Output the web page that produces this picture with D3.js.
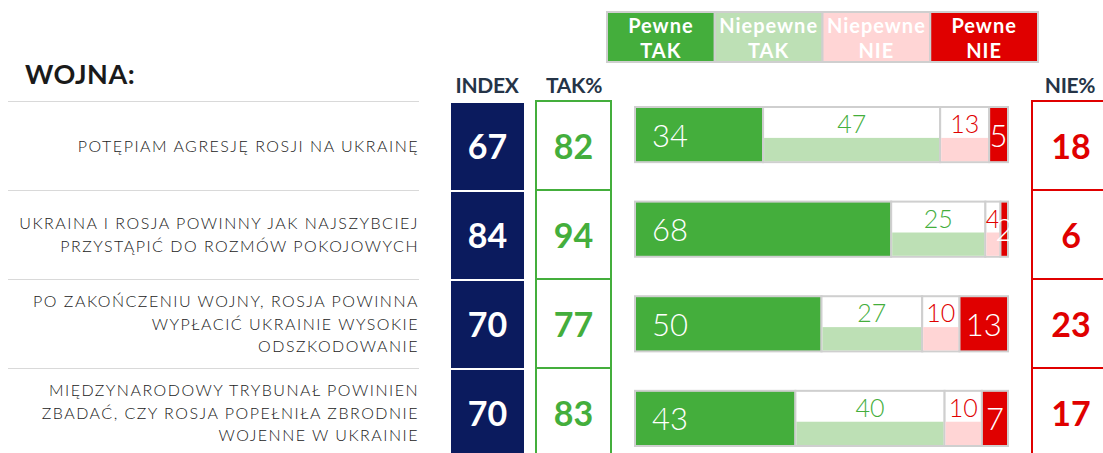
<!DOCTYPE html>
<html>
<head>
<meta charset="utf-8">
<script src="https://cdn.jsdelivr.net/npm/d3@7/dist/d3.min.js"></script>
<style>
  html, body { margin: 0; padding: 0; background: #ffffff; }
  svg { display: block; }
</style>
</head>
<body>
<div id="chart"></div>
<script>
const COLORS = {
  pewneTak: '#44ae3c',
  niepewneTak: '#bde0b5',
  niepewneNie: '#ffd5d5',
  pewneNie: '#e00000',
  navy: '#0b1b5e',
  header: '#253447',
  border: '#cfcfcf',
  rule: '#d9d9d9',
};

// data
const title = 'WOJNA:';
const statements = [
  ['POTĘPIAM AGRESJĘ ROSJI NA UKRAINĘ'],
  ['UKRAINA I ROSJA POWINNY JAK NAJSZYBCIEJ', 'PRZYSTĄPIĆ DO ROZMÓW POKOJOWYCH'],
  ['PO ZAKOŃCZENIU WOJNY, ROSJA POWINNA', 'WYPŁACIĆ UKRAINIE WYSOKIE', 'ODSZKODOWANIE'],
  ['MIĘDZYNARODOWY TRYBUNAŁ POWINIEN', 'ZBADAĆ, CZY ROSJA POPEŁNIŁA ZBRODNIE', 'WOJENNE W UKRAINIE'],
];
const indexValues = [67, 84, 70, 70];
const takValues = [82, 94, 77, 83];
const nieValues = [18, 6, 23, 17];
const pewneTak = [34, 68, 50, 43];
const niepewneTak = [47, 25, 27, 40];
const niepewneNie = [13, 4, 10, 10];
const pewneNie = [5, 2, 13, 7];
const seriesKeys = ['pewneTak', 'niepewneTak', 'niepewneNie', 'pewneNie'];
const legendLabels = [['Pewne', 'TAK'], ['Niepewne', 'TAK'], ['Niepewne', 'NIE'], ['Pewne', 'NIE']];
const columnHeaders = ['INDEX', 'TAK%', 'NIE%'];

const width = 1103;
const height = 453;

const svg = d3.select('#chart').append('svg')
  .attr('width', width)
  .attr('height', height)
  .style('font-family', 'Lato, "Open Sans", sans-serif');

const rows = d3.range(statements.length);

// rows of the table and the bars use slightly different bands
const yRow = d3.scaleBand().domain(rows).range([101, 457]);
const yBar = d3.scaleBand().domain(rows).range([107, 446]).paddingInner(0.417);

const table = rows.map((i) => ({
  i,
  pewneTak: pewneTak[i],
  niepewneTak: niepewneTak[i],
  niepewneNie: niepewneNie[i],
  pewneNie: pewneNie[i],
}));
const stacked = d3.stack().keys(seriesKeys).offset(d3.stackOffsetExpand)(table);

const x = d3.scaleLinear().domain([0, 1]).range([635, 1008]);

// title
svg.append('text')
  .attr('x', 25).attr('y', 84)
  .attr('font-size', 27).attr('font-weight', 700)
  .attr('letter-spacing', 0.5)
  .attr('fill', '#1a1a1a')
  .text(title);

// statement separators
svg.append('g').selectAll('line')
  .data(rows)
  .join('line')
  .attr('x1', 8).attr('x2', 419)
  .attr('y1', (d) => yRow(d) + 0.5).attr('y2', (d) => yRow(d) + 0.5)
  .attr('stroke', COLORS.rule).attr('stroke-width', 1.2);

// statements
const lineH = 22.5;
svg.append('g').selectAll('text')
  .data(rows)
  .join('text')
  .attr('text-anchor', 'end')
  .attr('font-size', 16)
  .attr('font-weight', 300)
  .attr('letter-spacing', 1.5)
  .attr('fill', '#222')
  .each(function (d) {
    const lines = statements[d];
    const cy = yRow(d) + yRow.bandwidth() / 2;
    const first = cy - ((lines.length - 1) * lineH) / 2 + 6;
    d3.select(this).selectAll('tspan')
      .data(lines)
      .join('tspan')
      .attr('x', 419)
      .attr('y', (_, k) => first + k * lineH)
      .text((t) => t);
  });

// column headers
const headerX = [487, 574, 1070];
svg.append('g').selectAll('text')
  .data(columnHeaders)
  .join('text')
  .attr('x', (_, k) => headerX[k]).attr('y', 93)
  .attr('text-anchor', 'middle')
  .attr('font-size', 21).attr('font-weight', 700)
  .attr('fill', COLORS.header)
  .attr('letter-spacing', -0.3)
  .text((d) => d);

// INDEX column
const idx = svg.append('g');
idx.selectAll('rect')
  .data(rows)
  .join('rect')
  .attr('x', 451).attr('width', 73)
  .attr('y', (d) => yRow(d) + 2)
  .attr('height', yRow.bandwidth() - 2)
  .attr('fill', COLORS.navy);
idx.selectAll('text')
  .data(rows)
  .join('text')
  .attr('x', 487.5)
  .attr('y', (d) => yRow(d) + yRow.bandwidth() / 2 + 13)
  .attr('text-anchor', 'middle')
  .attr('font-size', 34).attr('font-weight', 700)
  .attr('fill', '#fff')
  .text((d) => indexValues[d]);

// TAK% and NIE% boxed columns
function boxColumn(x0, w, textX, values, color) {
  const g = svg.append('g');
  g.selectAll('rect')
    .data(rows)
    .join('rect')
    .attr('x', x0).attr('width', w)
    .attr('y', (d) => yRow(d))
    .attr('height', yRow.bandwidth())
    .attr('fill', 'none')
    .attr('stroke', color).attr('stroke-width', 2);
  g.selectAll('text')
    .data(rows)
    .join('text')
    .attr('x', textX)
    .attr('y', (d) => yRow(d) + yRow.bandwidth() / 2 + 13)
    .attr('text-anchor', 'middle')
    .attr('font-size', 34).attr('font-weight', 700)
    .attr('fill', color)
    .text((d) => values[d]);
}
boxColumn(536, 75, 573.5, takValues, COLORS.pewneTak);
boxColumn(1032, 100, 1071, nieValues, COLORS.pewneNie);

// legend
const legendX = d3.scaleBand().domain(seriesKeys).range([607, 1038]);
const legend = svg.append('g');
legend.selectAll('rect')
  .data(seriesKeys)
  .join('rect')
  .attr('x', (d) => legendX(d))
  .attr('y', 12)
  .attr('width', legendX.bandwidth())
  .attr('height', 50)
  .attr('fill', (d) => COLORS[d])
  .attr('stroke', COLORS.border).attr('stroke-width', 2);
legend.selectAll('text')
  .data(seriesKeys)
  .join('text')
  .attr('text-anchor', 'middle')
  .attr('font-size', 20).attr('font-weight', 700)
  .attr('letter-spacing', 1)
  .attr('fill', '#fff')
  .each(function (d, k) {
    d3.select(this).selectAll('tspan')
      .data(legendLabels[k])
      .join('tspan')
      .attr('x', legendX(d) + legendX.bandwidth() / 2)
      .attr('y', (_, j) => 33 + j * 25)
      .text((t) => t);
  });

// stacked bars
const bars = svg.append('g');
stacked.forEach((layer) => {
  const key = layer.key;
  const solid = key === 'pewneTak' || key === 'pewneNie';
  const g = bars.append('g');
  const seg = g.selectAll('g')
    .data(layer)
    .join('g');

  const bx = (d) => x(d[0]);
  const bw = (d) => x(d[1]) - x(d[0]);
  const by = (d, k) => yBar(k);
  const bh = yBar.bandwidth();

  seg.append('rect')
    .attr('x', bx).attr('width', bw)
    .attr('y', by).attr('height', bh)
    .attr('fill', solid ? COLORS[key] : '#fff')
    .attr('stroke', COLORS.border).attr('stroke-width', 2);

  if (!solid) {
    seg.append('rect')
      .attr('x', (d) => bx(d) + 1).attr('width', (d) => Math.max(0, bw(d) - 2))
      .attr('y', (d, k) => by(d, k) + bh * 0.56)
      .attr('height', bh * 0.44 - 1)
      .attr('fill', COLORS[key]);
  }

  seg.append('text')
    .attr('x', (d) => key === 'pewneTak' ? bx(d) + 17 : bx(d) + bw(d) / 2)
    .attr('y', (d, k) => solid ? by(d, k) + bh / 2 + 12 : by(d, k) + 26)
    .attr('text-anchor', key === 'pewneTak' ? 'start' : 'middle')
    .attr('font-size', solid ? 31 : 25)
    .attr('font-weight', 300)
    .attr('fill', solid ? '#fff' : (key === 'niepewneTak' ? COLORS.pewneTak : COLORS.pewneNie))
    .text((d) => d.data[key]);
});
</script>
</body>
</html>
